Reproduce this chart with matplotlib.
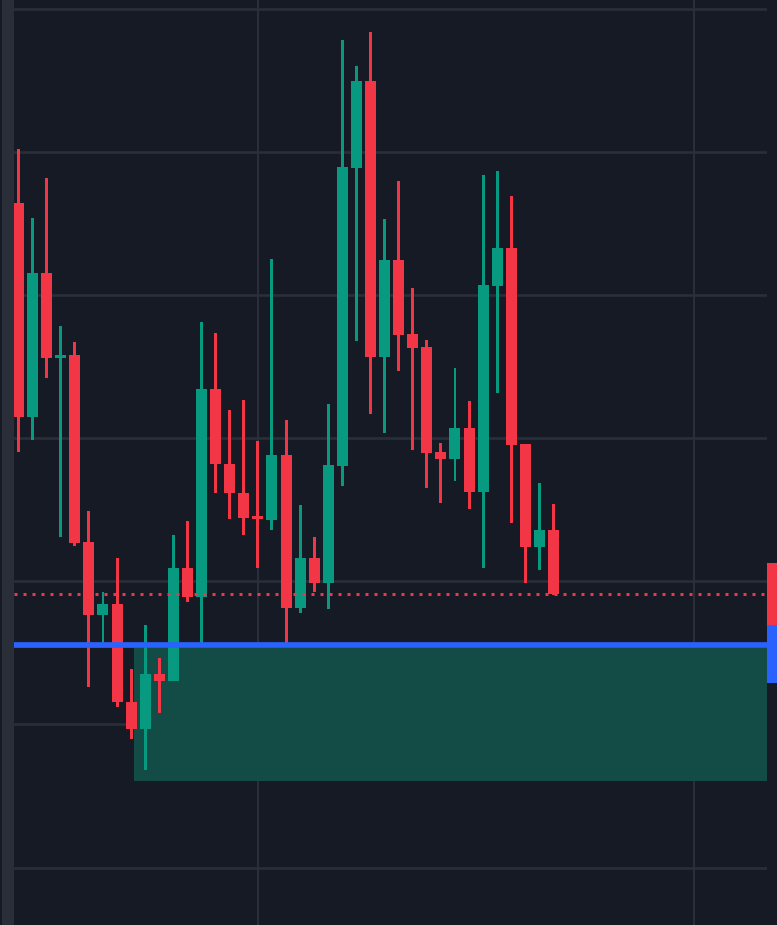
import matplotlib
matplotlib.use("Agg")
import matplotlib.pyplot as plt
from matplotlib.patches import Rectangle
from matplotlib.transforms import blended_transform_factory
import numpy as np

# OHLC (arbitrary price units, grid every 10)
opens = [146.47, 131.50, 141.57, 135.63, 135.84, 122.76, 117.69, 118.43, 111.59, 109.71,
         113.53, 113.06, 120.94, 118.94, 133.46, 128.24, 126.21, 124.60, 124.32, 128.85,
         118.17, 121.64, 119.92, 128.10, 148.94, 155.00, 135.72, 142.48, 137.31, 136.40,
         129.06, 128.57, 130.73, 126.26, 140.66, 143.32, 129.62, 122.43, 123.60]
highs = [150.24, 145.42, 148.22, 137.87, 136.75, 124.93, 119.27, 121.64, 113.88, 116.96,
         114.65, 123.25, 124.23, 138.15, 137.38, 131.99, 132.69, 129.83, 142.55, 131.29,
         125.35, 123.11, 132.41, 157.87, 156.05, 158.43, 145.35, 148.01, 140.52, 136.89,
         129.69, 134.93, 132.62, 148.43, 148.71, 146.96, 129.62, 126.89, 125.42]
lows = [129.06, 129.90, 134.23, 123.13, 122.48, 112.59, 115.70, 111.24, 109.01, 106.82,
        110.83, 113.04, 118.59, 115.70, 126.21, 124.39, 123.27, 120.97, 123.62, 115.56,
        117.82, 119.29, 118.10, 126.70, 136.82, 131.73, 130.38, 134.74, 129.20, 126.54,
        125.49, 127.03, 125.07, 120.94, 133.18, 124.09, 119.90, 120.80, 119.06]
closes = [131.50, 141.57, 135.63, 135.84, 122.69, 117.69, 118.43, 111.59, 109.71, 113.53,
          113.06, 120.94, 118.94, 133.46, 128.24, 126.21, 124.46, 124.39, 128.85, 118.17,
          121.64, 119.92, 128.15, 149.01, 155.00, 135.72, 142.48, 137.26, 136.35, 128.99,
          128.57, 130.73, 126.26, 140.73, 143.32, 129.55, 122.43, 123.60, 119.09]

entry_level = 115.56          # blue line
zone_top, zone_bottom = 115.35, 106.05
zone_start = 8.2              # bar index where the shaded zone begins
grid_prices = [100, 110, 120, 130, 140, 150, 160]
vgrid_bars = [17, 48]

BG = "#161a25"
GRID = "#2a2e39"
UP, DOWN = "#089981", "#f23645"
BLUE = "#2962ff"
ZONE = "#134c47"

W, H = 777, 925
fig = plt.figure(figsize=(W / 100, H / 100), dpi=100, facecolor=BG)
ax = fig.add_axes([14 / W, 0, (767 - 14) / W, 1])
ax.set_facecolor(BG)
ax.set_xlim(-0.32, 53.16)
ax.set_ylim(95.98, 160.66)
for s in ax.spines.values():
    s.set_visible(False)
ax.set_xticks([]); ax.set_yticks([])

for p in grid_prices:
    ax.axhline(p, color=GRID, lw=1.9, zorder=0)
for b in vgrid_bars:
    ax.axvline(b, color=GRID, lw=1.5, zorder=0)

ax.add_patch(Rectangle((zone_start, zone_bottom), 60, zone_top - zone_bottom,
                       facecolor=ZONE, edgecolor="none", zorder=1))

o = np.array(opens); h = np.array(highs); l = np.array(lows); c = np.array(closes)
x = np.arange(len(o))
col = np.where(c >= o, UP, DOWN)
ax.bar(x, h - l, bottom=l, width=0.21, color=col, zorder=2)
ax.bar(x, np.maximum(np.abs(c - o), 0.15), bottom=np.minimum(o, c), width=0.78,
       color=col, zorder=3)

ax.axhline(entry_level, color=BLUE, lw=4.1, zorder=4)
ax.axhline(closes[-1], color=DOWN, lw=2.16, ls=(0, (1, 2)), zorder=4)

# price labels peeking in at the right edge
tr = blended_transform_factory(fig.transFigure, ax.transData)
px = (160.66 - 95.98) / H
fig.patches.append(Rectangle((767 / W, closes[-1] - 31 * px), 10 / W, 62 * px,
                             transform=tr, facecolor=DOWN, edgecolor="none"))
fig.patches.append(Rectangle((767 / W, closes[-1] - 89 * px), 10 / W, 58 * px,
                             transform=tr, facecolor=BLUE, edgecolor="none"))
# left panel strip
fig.patches.append(Rectangle((2 / W, 0), 12 / W, 1, transform=fig.transFigure,
                             facecolor="#2a2e39", edgecolor="none"))

fig.savefig("out.png", dpi=100, facecolor=BG)
